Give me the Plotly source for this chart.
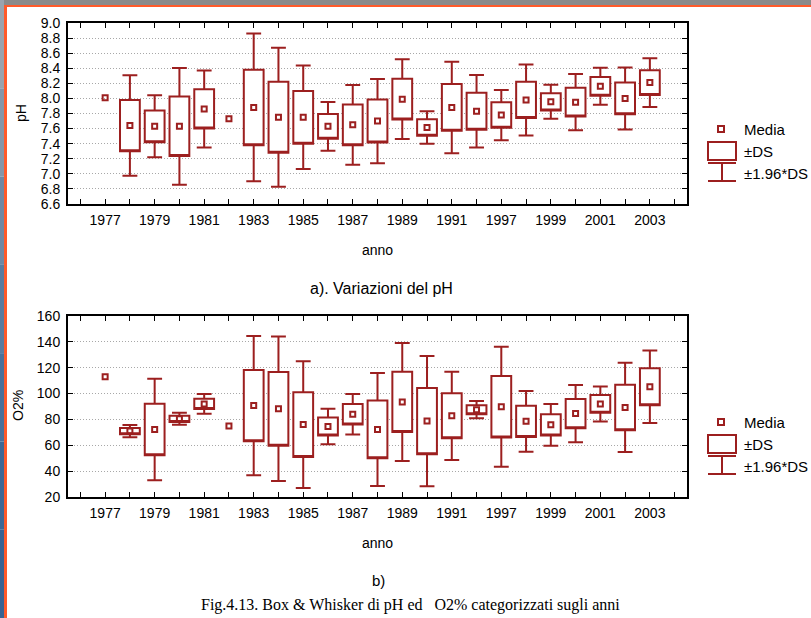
import plotly.graph_objects as go

# ---------------- data ----------------
categories = ["1977", "1978", "1979", "1980", "1981", "1982", "1983", "1984",
              "1985", "1986", "1987", "1988", "1989", "1990", "1991", "1996",
              "1997", "1998", "1999", "2000", "2001", "2002", "2003"]

ph_mean = [8.01, 7.64, 7.63, 7.63, 7.86, 7.73, 7.88, 7.75, 7.75, 7.63, 7.65, 7.70,
           7.99, 7.615, 7.88, 7.83, 7.78, 7.98, 7.955, 7.95, 8.16, 8.00, 8.21]
ph_sd = [None, 0.34, 0.21, 0.395, 0.26, None, 0.50, 0.47, 0.35, 0.165, 0.27, 0.285,
         0.27, 0.11, 0.31, 0.245, 0.17, 0.24, 0.115, 0.19, 0.125, 0.21, 0.165]

o2_mean = [113, 71, 72.2, 80.5, 92, 75, 90.7, 88.2, 76, 74.5, 84, 72.3,
           93.5, 78.7, 82.8, 87.5, 89.8, 78.5, 75.8, 84.5, 92, 89.3, 105.3]
o2_sd = [None, 2.4, 20, 2.4, 3.9, None, 27.5, 28.5, 25, 7, 8, 22.3,
         23.3, 25.7, 17.4, 3.4, 23.7, 12, 8.2, 11.3, 6.9, 17.6, 14.3]

ph_ticks = [6.6, 6.8, 7.0, 7.2, 7.4, 7.6, 7.8, 8.0, 8.2, 8.4, 8.6, 8.8, 9.0]
o2_ticks = [20, 40, 60, 80, 100, 120, 140, 160]

legend_labels = ["Media", "±DS", "±1.96*DS"]

# ---------------- style ----------------
RED = "#9c1f1f"
W, H = 811, 618
L, R, T, B = 68, 687, 23, 497   # plot-area pixel bounds
K = 1.96

def px(x):
    return (x - L) / (R - L)

def py(y):
    return (B - y) / (B - T)

pos = list(range(1, len(categories) + 1))
tickvals = list(range(0, len(categories) + 2))
ticktext = [""] + [c if i % 2 == 0 else "" for i, c in enumerate(categories)] + [""]

fig = go.Figure()

def add_panel(means, sds, xa, ya):
    idx = [i for i, s in enumerate(sds) if s is not None]
    xs = [pos[i] for i in idx]
    q1 = [means[i] - sds[i] for i in idx]
    q3 = [means[i] + sds[i] for i in idx]
    lo = [means[i] - K * sds[i] for i in idx]
    hi = [means[i] + K * sds[i] for i in idx]
    fig.add_trace(go.Box(
        x=xs, q1=q1, median=q1, q3=q3, lowerfence=lo, upperfence=hi,
        width=0.8, whiskerwidth=0.75, boxpoints=False,
        line=dict(color=RED, width=2), fillcolor="white",
        xaxis=xa, yaxis=ya, showlegend=False, hoverinfo="skip"))
    fig.add_trace(go.Scatter(
        x=pos, y=means, mode="markers",
        marker=dict(symbol="square-open", size=5, color=RED, line=dict(width=2, color=RED)),
        xaxis=xa, yaxis=ya, showlegend=False))

add_panel(ph_mean, ph_sd, "x", "y")
add_panel(o2_mean, o2_sd, "x2", "y2")

tfont = dict(family="Liberation Sans, Arial", size=14, color="black")
xcommon = dict(range=[-0.5, len(categories) + 1.5], tickmode="array",
               tickvals=tickvals, ticktext=ticktext, ticks="inside", ticklen=5,
               tickcolor="black", showline=True, linecolor="black", linewidth=2,
               mirror="ticks", showgrid=False, zeroline=False, tickfont=tfont,
               ticklabelstandoff=2)
ycommon = dict(ticks="inside", ticklen=5, tickcolor="black", showline=True,
               linecolor="black", linewidth=2, mirror="ticks", showgrid=True,
               gridcolor="#a8a8a8", griddash="1px,2px", gridwidth=1, zeroline=False,
               tickfont=tfont, ticklabelstandoff=3)

split_top = py(204)
split_bot = py(316)

fig.update_layout(
    width=W, height=H, autosize=False,
    margin=dict(l=L, r=W - R, t=T, b=H - B),
    paper_bgcolor="white", plot_bgcolor="white",
    showlegend=False,
    xaxis=dict(xcommon, anchor="y", domain=[0, 1]),
    yaxis=dict(ycommon, anchor="x", domain=[split_top, 1], range=[6.6, 9.0],
               tickmode="array", tickvals=ph_ticks,
               ticktext=[f"{v:.1f}" for v in ph_ticks]),
    xaxis2=dict(xcommon, anchor="y2", domain=[0, 1]),
    yaxis2=dict(ycommon, anchor="x2", domain=[0, split_bot], range=[20, 160],
                tickmode="array", tickvals=o2_ticks),
)

shapes = []
annotations = []

def txt(x, y, s, size=13, family="Liberation Sans, Arial", xanchor="center", angle=0):
    annotations.append(dict(x=px(x), y=py(y), xref="paper", yref="paper", text=s,
                            showarrow=False, xanchor=xanchor, yanchor="middle",
                            textangle=angle,
                            font=dict(family=family, size=size, color="black")))

def line(x0, y0, x1, y1, color=RED, width=2):
    shapes.append(dict(type="line", xref="paper", yref="paper", x0=px(x0), y0=py(y0),
                       x1=px(x1), y1=py(y1), line=dict(color=color, width=width)))

def rect(x0, y0, x1, y1, color=RED, width=2, fill="rgba(0,0,0,0)"):
    shapes.append(dict(type="rect", xref="paper", yref="paper", x0=px(x0), y0=py(y0),
                       x1=px(x1), y1=py(y1), line=dict(color=color, width=width),
                       fillcolor=fill))

# legends
for off in (0, 293):
    rect(718, 126 + off, 724, 132 + off)
    rect(708, 142 + off, 736, 160 + off)
    line(708, 163 + off, 736, 163 + off)
    line(722, 163 + off, 722, 181 + off)
    line(708, 181 + off, 736, 181 + off)
    txt(742, 129 + off, legend_labels[0], size=15, xanchor="left")
    txt(742, 151 + off, legend_labels[1], size=15, xanchor="left")
    txt(742, 173 + off, legend_labels[2], size=15, xanchor="left")

# axis titles and captions
txt(21, 113, "pH", size=14, angle=-90)
txt(18, 406, "O2%", size=14, angle=-90)
txt(377, 250, "anno", size=14)
txt(377, 543, "anno", size=14)
txt(381, 288, "a). Variazioni del pH", size=16)
txt(378, 580, "b)", size=15)
txt(410, 605, "Fig.4.13. Box &amp; Whisker di pH ed   O2% categorizzati sugli anni",
    size=16, family="Liberation Serif, Times New Roman")

# window frame decoration
shapes.append(dict(type="rect", xref="paper", yref="paper", x0=px(0), x1=px(W),
                   y0=py(0), y1=py(5), line=dict(width=0), fillcolor="#8a8a8a"))
shapes.append(dict(type="rect", xref="paper", yref="paper", x0=px(0), x1=px(W),
                   y0=py(5), y1=py(7), line=dict(width=0), fillcolor="#ff5a2a"))
left_cols = ["#9aa3ad", "#8596a8", "#6f88a3", "#5a7c9f", "#4a719a", "#3e6895", "#386392"]
seg = H / len(left_cols)
for i, c in enumerate(left_cols):
    shapes.append(dict(type="rect", xref="paper", yref="paper", x0=px(0), x1=px(4),
                       y0=py(i * seg), y1=py((i + 1) * seg), line=dict(width=0),
                       fillcolor=c))
shapes.append(dict(type="rect", xref="paper", yref="paper", x0=px(4), x1=px(7),
                   y0=py(5), y1=py(H), line=dict(width=0), fillcolor="#ff5a2a"))

fig.update_layout(shapes=shapes, annotations=annotations)

fig.write_html("out.html")
